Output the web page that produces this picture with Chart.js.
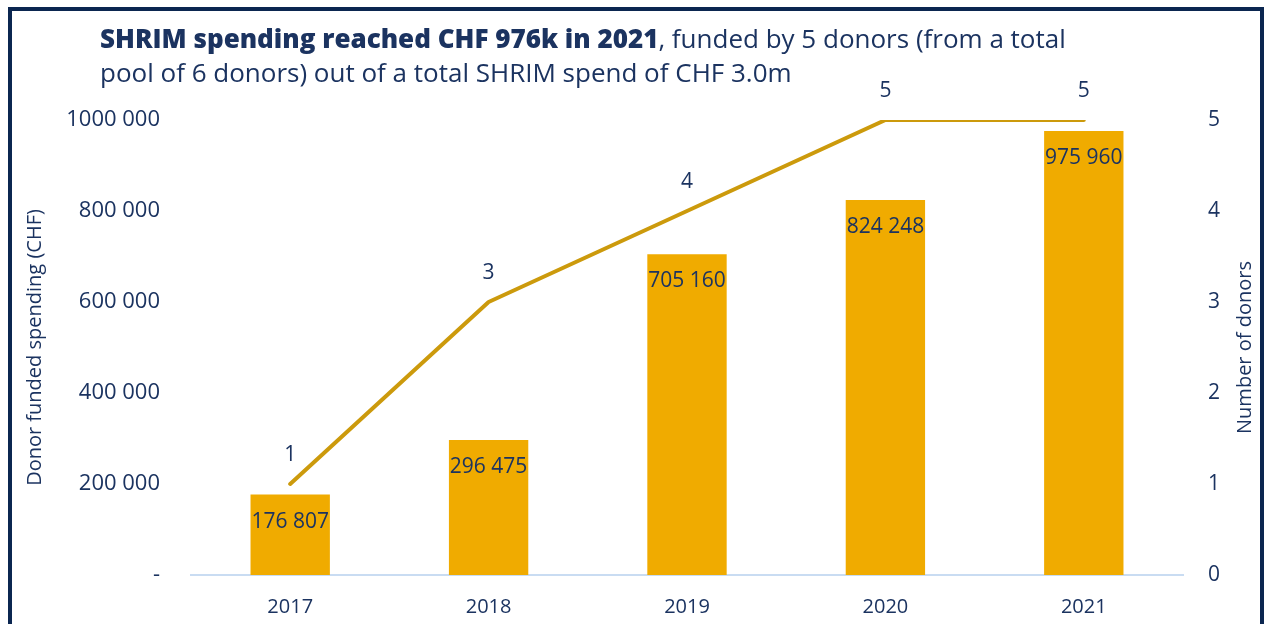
<!DOCTYPE html>
<html>
<head>
<meta charset="utf-8">
<script src="https://cdn.jsdelivr.net/npm/chart.js@4.4.0/dist/chart.umd.min.js"></script>
<style>
  html, body { margin: 0; padding: 0; background: #ffffff; }
  #wrap { position: relative; width: 1268px; height: 624px; overflow: hidden; }
  #frame { position: absolute; left: 8px; top: 7px; width: 1256px; height: 640px; border: 4px solid #0B2650; box-sizing: border-box; pointer-events: none; }
  #title { position: absolute; left: 100px; top: 21px; font-family: "Open Sans", sans-serif; font-size: 26px; line-height: 34px; color: #1B3360; white-space: nowrap; }
  #title b { font-weight: 800; }
  canvas { position: absolute; left: 0; top: 0; }
</style>
</head>
<body>
<div id="wrap">
  <canvas id="c" width="1268" height="624"></canvas>
  <div id="title"><b>SHRIM spending reached CHF 976k in 2021</b>, funded by 5 donors (from a total<br>pool of 6 donors) out of a total SHRIM spend of CHF 3.0m</div>
  <div id="frame"></div>
</div>
<script>
const years = ['2017', '2018', '2019', '2020', '2021'];
const spending = [176807, 296475, 705160, 824248, 975960];
const donors = [1, 3, 4, 5, 5];
const leftTickLabels = ['-', '200 000', '400 000', '600 000', '800 000', '1000 000'];
const rightTickLabels = ['0', '1', '2', '3', '4', '5'];
const leftTitle = 'Donor funded spending (CHF)';
const rightTitle = 'Number of donors';

const navy = '#1B3360';
const barColor = '#F0AB00';
const lineColor = '#CC9A0C';
const FONT = '"Open Sans", sans-serif';

function fmt(v) {
  return String(v).replace(/\B(?=(\d{3})+(?!\d))/g, ' ');
}

const labelPlugin = {
  id: 'valueLabels',
  afterDatasetsDraw(chart) {
    const ctx = chart.ctx;
    ctx.save();
    ctx.font = '21px ' + FONT;
    ctx.fillStyle = navy;
    ctx.textAlign = 'center';
    ctx.textBaseline = 'middle';
    const barMeta = chart.getDatasetMeta(0);
    barMeta.data.forEach((el, i) => {
      ctx.fillText(fmt(spending[i]), el.x, el.y + 27);
    });
    const lineMeta = chart.getDatasetMeta(1);
    lineMeta.data.forEach((el, i) => {
      ctx.fillText(String(donors[i]), el.x, el.y - 29);
    });
    // right axis title, reading upwards
    const area = chart.chartArea;
    ctx.font = '20px ' + FONT;
    ctx.translate(1245, (area.top + area.bottom) / 2);
    ctx.rotate(-Math.PI / 2);
    ctx.fillText(rightTitle, 0, 0);
    ctx.restore();
  }
};

new Chart(document.getElementById('c'), {
  data: {
    labels: years,
    datasets: [
      {
        type: 'bar',
        data: spending,
        backgroundColor: barColor,
        yAxisID: 'y',
        barPercentage: 0.4,
        categoryPercentage: 1.0,
        order: 2
      },
      {
        type: 'line',
        data: donors,
        borderColor: lineColor,
        borderWidth: 4,
        borderCapStyle: 'round',
        borderJoinStyle: 'round',
        pointRadius: 0,
        tension: 0,
        yAxisID: 'y1',
        order: 1
      }
    ]
  },
  options: {
    responsive: false,
    animation: false,
    layout: { padding: { top: 120, left: 0, right: 0, bottom: 0 } },
    plugins: { legend: { display: false }, tooltip: { enabled: false }, title: { display: false } },
    scales: {
      x: {
        grid: { display: false, drawTicks: false },
        border: { display: true, color: '#C9DCF2', width: 2 },
        ticks: { color: navy, font: { family: FONT, size: 20 }, padding: 20 },
        afterFit(s) { s.height = 49; }
      },
      y: {
        position: 'left',
        min: 0, max: 1000000,
        grid: { display: false, drawTicks: false },
        border: { display: false },
        ticks: {
          stepSize: 200000,
          color: navy,
          font: { family: FONT, size: 22 },
          padding: 31,
          callback: (v, i) => leftTickLabels[i]
        },
        title: { display: true, text: leftTitle, color: navy, font: { family: FONT, size: 20 }, padding: { top: 23, bottom: 0 } },
        afterFit(s) { s.width = 191; }
      },
      y1: {
        position: 'right',
        min: 0, max: 5,
        grid: { display: false, drawTicks: false },
        border: { display: false },
        ticks: {
          stepSize: 1,
          color: navy,
          font: { family: FONT, size: 21 },
          padding: 25,
          callback: (v, i) => rightTickLabels[i]
        },
        title: { display: false },
        afterFit(s) { s.width = 85; }
      }
    }
  },
  plugins: [labelPlugin]
});
</script>
</body>
</html>
